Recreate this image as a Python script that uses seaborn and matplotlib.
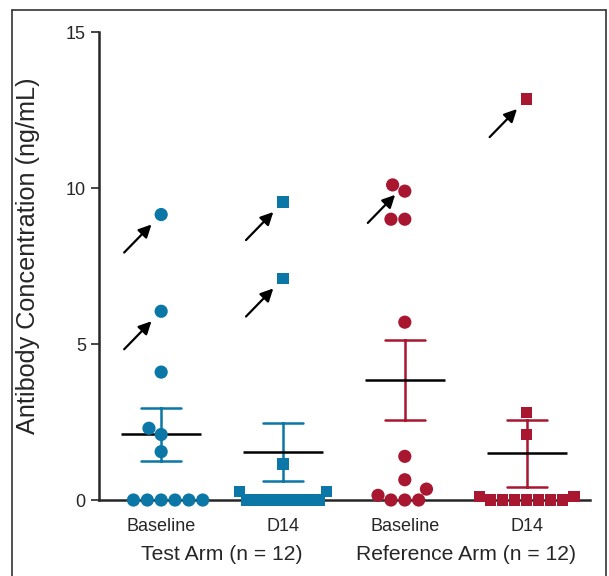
import numpy as np
import pandas as pd
import matplotlib
matplotlib.use("Agg")
import matplotlib.pyplot as plt
import seaborn as sns
from matplotlib.lines import Line2D

# values (ng/mL), 12 patients per group
groups = ["Test Baseline", "Test D14", "Ref Baseline", "Ref D14"]
tick_labels = ["Baseline", "D14", "Baseline", "D14"]
test_baseline = [9.15, 6.05, 4.1, 2.3, 2.1, 1.55, 0, 0, 0, 0, 0, 0]
test_d14 = [9.55, 7.1, 1.15, 0.28, 0.28, 0, 0, 0, 0, 0, 0, 0]
ref_baseline = [10.1, 9.9, 9.0, 9.0, 5.7, 1.4, 0.65, 0.35, 0.15, 0, 0, 0]
ref_d14 = [12.85, 2.8, 2.1, 0.12, 0.12, 0, 0, 0, 0, 0, 0, 0]
arm_labels = ["Test Arm (n = 12)", "Reference Arm (n = 12)"]
# points that carry an arrow (group, value)
arrow_points = [("Test Baseline", 9.15), ("Test Baseline", 6.05),
                ("Test D14", 9.55), ("Test D14", 7.1),
                ("Ref Baseline", 10.1), ("Ref D14", 12.85)]

blue = "#0a77a7"
red = "#a8172f"
palette = {"Test Baseline": blue, "Test D14": blue,
           "Ref Baseline": red, "Ref D14": red}

df = pd.DataFrame({
    "group": np.repeat(groups, 12),
    "value": test_baseline + test_d14 + ref_baseline + ref_d14,
})

sns.set_style("ticks")
plt.rcParams["font.family"] = ["Liberation Sans", "DejaVu Sans"]

fig = plt.figure(figsize=(6.09, 5.76), dpi=100)
ax = fig.add_axes([0.1626, 0.1319, 0.8062, 0.8125])
ax.set_xlim(-0.51, 3.52)
ax.set_ylim(0, 15)

base = df[df["group"].str.contains("Baseline")]
d14 = df[df["group"].str.contains("D14")]
sns.swarmplot(data=base, x="group", y="value", hue="group", order=groups,
              palette=palette, marker="o", size=9.5, linewidth=0,
              legend=False, ax=ax, clip_on=False)
n0 = len(ax.collections)
# squares are packed tighter than their size in the original, so swarm
# them small and enlarge afterwards
sns.swarmplot(data=d14, x="group", y="value", hue="group", order=groups,
              palette=palette, marker="s", size=6, linewidth=0,
              legend=False, ax=ax, clip_on=False)
for coll in ax.collections[n0:]:
    coll.set_sizes([8.2 ** 2])
ax.set_xlim(-0.51, 3.52)
ax.set_ylim(0, 15)

# mean +/- SEM
sns.pointplot(data=df, x="group", y="value", hue="group", order=groups,
              palette=palette, errorbar="se", capsize=0.33, markers="",
              linestyle="none", err_kws={"linewidth": 1.8}, legend=False, ax=ax)
sns.pointplot(data=df, x="group", y="value", order=groups, color="black",
              errorbar=None, markers="_", markersize=58, markeredgewidth=1.8,
              linestyle="none", ax=ax)
ax.set_xlim(-0.51, 3.52)
ax.set_ylim(0, 15)

for g, v in arrow_points:
    ax.annotate("", xy=(groups.index(g), v), xycoords="data",
                xytext=(-37, -38), textcoords="offset pixels",
                arrowprops=dict(arrowstyle="-|>", color="black", lw=1.6,
                                mutation_scale=19, shrinkA=0, shrinkB=10))

ax.set_yticks([0, 5, 10, 15])
ax.set_xticks(range(4))
ax.set_xticklabels(tick_labels)
ax.set_xlabel("")
ax.set_ylabel("Antibody Concentration (ng/mL)", fontsize=18.2)
ax.yaxis.set_label_coords(-0.12, 0.523)
ax.tick_params(axis="y", labelsize=13, length=6, width=1.2)
ax.tick_params(axis="x", labelsize=13, length=3, width=1, pad=10)
sns.despine(ax=ax)
ax.spines["left"].set_linewidth(1.8)
ax.spines["bottom"].set_linewidth(1.8)

trans = matplotlib.transforms.blended_transform_factory(ax.transData, ax.transAxes)
ax.text(0.5, -0.117, arm_labels[0], transform=trans, ha="center", va="center", fontsize=15.2)
ax.text(2.5, -0.117, arm_labels[1], transform=trans, ha="center", va="center", fontsize=15.2)

# outer frame (open at the bottom)
for xs, ys in [([0.02, 0.02], [-0.1, 0.983]), ([0.02, 0.995], [0.983, 0.983]),
               ([0.995, 0.995], [0.983, -0.1])]:
    fig.add_artist(Line2D(xs, ys, color="#333333", lw=1.2, transform=fig.transFigure))

fig.savefig("out.png", dpi=100)
